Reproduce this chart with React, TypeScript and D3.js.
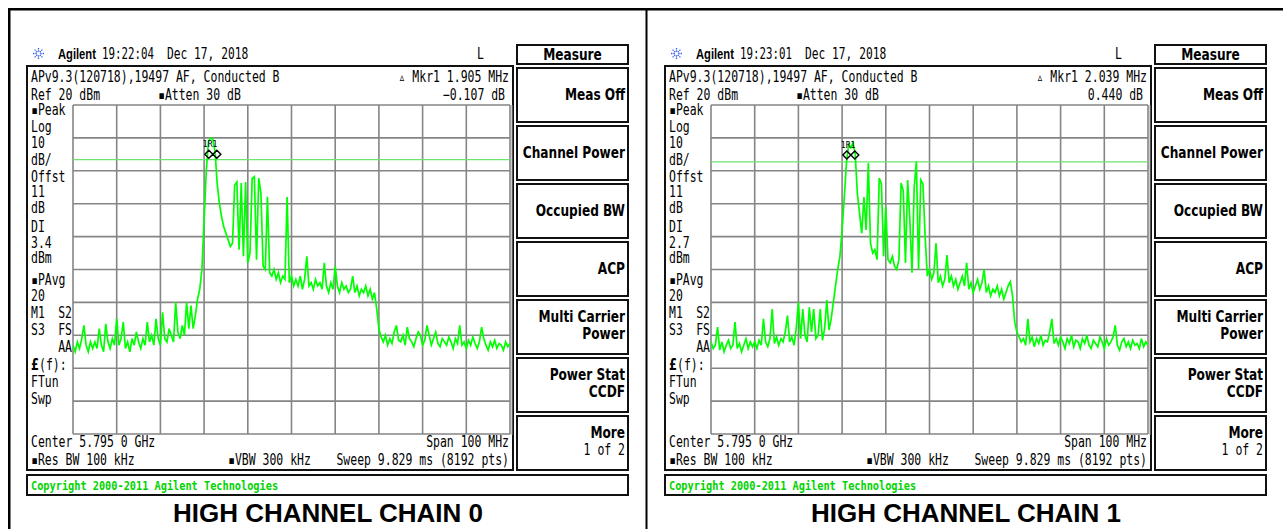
import React from "react";
import * as d3 from "d3";

// two Agilent PSA screenshots, 100 MHz span around 5.795 GHz
const SPAN_MHZ = [-50, 50];
const REF_DBM = 20;
const DB_PER_DIV = 10;
const DIVS = 10;

const TITLES = ["HIGH CHANNEL CHAIN 0", "HIGH CHANNEL CHAIN 1"];
const TIMES = ["19:22:04", "19:23:01"];
const MKR_FREQ_TEXT = ["1.905 MHz", "2.039 MHz"];
const MKR_DELTA_TEXT = ["\u22120.107 dB", "0.440 dB"];
const DISPLAY_LINE_DBM = [3.4, 2.7];
const MARKER_MHZ = [-18, -18];
const MARKER_DBM = [5, 4.8];

const SOFTKEYS = [
  ["Meas Off"],
  ["Channel Power"],
  ["Occupied BW"],
  ["ACP"],
  ["Multi Carrier", "Power"],
  ["Power Stat", "CCDF"],
  ["More", "1 of 2"],
];

// trace amplitude (dBm), 201 points across the span
const TRACE_0 = [
  -53, -55, -52, -54, -51, -47, -53, -55, -52, -54,
  -52, -54, -48, -53, -55, -46.5, -52, -54, -51, -53,
  -45, -53, -51, -46, -54, -52, -55, -51, -53, -49,
  -52, -54, -51, -53, -46, -52, -50, -53, -45, -51,
  -53, -43, -51, -52, -48, -50, -52, -40, -49, -51,
  -47, -50, -40, -48, -41, -48, -44, -39, -36, -30,
  -15, 0, 9, 10, 9.5, 6, -4, -10, -14, -17,
  -19, -21, -23, -22, -4.3, -3.4, -24, -3.7, -26, -3.4,
  -28, -25, -2.3, -1.8, -27, -2.2, -6.7, -29, -30, -7.9,
  -31, -32, -30, -33, -31, -34, -32, -33, -8, -34,
  -32, -35, -33, -35, -32, -36, -33, -26, -35, -34,
  -36, -33, -35, -34, -36, -28, -35, -37, -34, -36,
  -29, -35, -37, -34, -36, -35, -37, -36, -32, -37,
  -35, -38, -36, -37, -35, -38, -36, -39, -37, -42,
  -48, -50.5, -52, -50, -53, -51, -52.5, -49, -47, -51.5,
  -52, -50, -53, -47.5, -51, -52, -53.5, -51, -49, -50,
  -53, -51.5, -47, -50, -53, -51, -49, -52.5, -53.5, -51,
  -52, -53, -50.5, -52, -54, -51, -52.5, -47, -53, -52,
  -54, -51.5, -53, -50.5, -52.5, -54, -52, -47.5, -51, -53,
  -54.5, -52, -53.5, -51.5, -54, -52.5, -53, -54.5, -52, -53.5, -52.5,
];

const TRACE_1 = [
  -52, -54, -53, -47.5, -54.5, -52, -55, -53, -51.5, -54,
  -53, -46, -54, -52.5, -55, -53, -51, -54, -52, -53.5,
  -52, -54, -51.5, -53, -45, -52, -53.5, -51, -42, -52.5,
  -50.5, -53, -51, -52, -49, -44, -52, -50.5, -53, -48,
  -40, -51, -42, -50, -52, -41.5, -49, -42, -51, -50,
  -42, -51.5, -48, -39.3, -48.4, -45, -40, -35, -30, -26,
  -18, -8, 2.5, 8, 7, 8.5, 5, -7, -13, -19,
  -8, -18, 2.4, -22, -25, -24, -27, -2.2, -4, -26,
  -11, -27, -28, -26, -29, -30, -27, -3.7, -6, -28,
  -2.8, -15, -31, -5, 2.8, -30, -2.8, -4, -20, -32,
  -30, -33, -31, -22, -34, -32, -35, -33, -25.6, -34,
  -32, -35, -33, -36, -34, -32, -35, -28, -36, -34,
  -37, -35, -33, -36, -34, -30, -37, -35, -38, -36,
  -37, -35, -38, -36, -39, -37, -35, -33.7, -38, -46,
  -49, -50.5, -52, -51, -53, -45, -52, -50.5, -53.5, -51,
  -52.5, -50, -53, -51.5, -52, -49, -45, -52.5, -51, -53,
  -50.5, -52, -54, -51, -52.5, -50, -53.5, -51.5, -52, -54,
  -51, -52.5, -50, -53, -54, -51.5, -52.5, -53.5, -50.5, -52,
  -54, -51, -53, -52, -50.5, -47, -53, -54.5, -52, -51,
  -53.5, -52, -54, -51.5, -53, -52.5, -54, -51, -53.5, -52, -53,
];

const TRACES = [TRACE_0, TRACE_1];

const MONO = "'DejaVu Sans Mono', 'Liberation Mono', monospace";
const BOLD = "'DejaVu Sans', sans-serif";
const ARIAL = "'Liberation Sans', Arial, sans-serif";

const T = ({ x, y, children, anchor = "start", size = 15, sx = 0.765, weight = "normal", fill = "#000", family = MONO }: any) => (
  <text
    transform={`translate(${x},${y}) scale(${sx},1)`}
    textAnchor={anchor}
    fontSize={size}
    fontFamily={family}
    fontWeight={weight}
    fill={fill}
  >
    {children}
  </text>
);

const Logo = ({ cx, cy }: { cx: number; cy: number }) => (
  <g stroke="#3a5ee8" strokeWidth={1.3}>
    {d3.range(8).map((k) => {
      const a = (k * Math.PI) / 4;
      return (
        <line
          key={k}
          x1={cx + Math.cos(a) * 1.8}
          y1={cy + Math.sin(a) * 1.8}
          x2={cx + Math.cos(a) * 5.5}
          y2={cy + Math.sin(a) * 5.5}
          strokeDasharray="1.4 0.9"
        />
      );
    })}
  </g>
);

const Panel = ({ idx, dx }: { idx: number; dx: number }) => {
  const gx0 = 73 + dx;
  const gx1 = 510 + dx;
  const gy0 = 105;
  const gy1 = 434;
  const x = d3.scaleLinear().domain(SPAN_MHZ).range([gx0, gx1]);
  const y = d3
    .scaleLinear()
    .domain([REF_DBM - DB_PER_DIV * DIVS, REF_DBM])
    .range([gy1, gy0]);
  const data = TRACES[idx];
  const step = (SPAN_MHZ[1] - SPAN_MHZ[0]) / (data.length - 1);
  const line = d3
    .line<number>()
    .x((_, i) => x(SPAN_MHZ[0] + i * step))
    .y((d) => y(d));
  const xTicks = d3.range(DIVS + 1).map((k) => SPAN_MHZ[0] + (k * (SPAN_MHZ[1] - SPAN_MHZ[0])) / DIVS);
  const yTicks = d3.range(DIVS + 1).map((k) => REF_DBM - k * DB_PER_DIV);
  const mx = x(MARKER_MHZ[idx]);
  const my = y(MARKER_DBM[idx]);
  const dl = y(DISPLAY_LINE_DBM[idx]);
  const diamond = (cx: number) => `M${cx - 4},${my} L${cx},${my - 4} L${cx + 4},${my} L${cx},${my + 4} Z`;

  const leftLabels: [string, number][] = [
    ["\u25aaPeak", 115],
    ["Log", 132],
    ["10", 148],
    ["dB/", 165],
    ["Offst", 182],
    ["11", 197],
    ["dB", 213],
    ["DI", 232],
    [String(DISPLAY_LINE_DBM[idx]), 248],
    ["dBm", 263],
    ["\u25aaPAvg", 285],
    ["20", 301],
    ["M1", 318],
    ["S3", 335],
    ["FTun", 387],
    ["Swp", 404],
  ];

  const L = 27 + dx;
  const K = 517 + dx;
  const clipId = `clip${idx}`;

  return (
    <g>
      {/* header */}
      <Logo cx={38.5 + dx} cy={53.5} />
      <T x={58 + dx} y={59} family={ARIAL} weight="bold" size={14} sx={0.8}>Agilent</T>
      <T x={102 + dx} y={59} sx={0.72}>{TIMES[idx]}</T>
      <T x={167 + dx} y={59} sx={0.75}>Dec 17, 2018</T>
      <T x={477 + dx} y={59}>L</T>

      {/* instrument frame */}
      <rect x={L} y={66} width={486} height={404} fill="none" stroke="#111" strokeWidth={2} />
      <T x={31 + dx} y={82}>APv9.3(120718),19497 AF, Conducted B</T>
      <T x={31 + dx} y={100}>Ref 20 dBm</T>
      <T x={158 + dx} y={100}>{"\u25aaAtten 30 dB"}</T>
      <T x={509 + dx} y={82} anchor="end">{"\u25b5 Mkr1  " + MKR_FREQ_TEXT[idx]}</T>
      <T x={505 + dx} y={100} anchor="end">{MKR_DELTA_TEXT[idx]}</T>
      {leftLabels.map(([s, yy]) => (
        <T key={s + yy} x={31 + dx} y={yy}>{s}</T>
      ))}
      <T x={72 + dx} y={318} anchor="end">S2</T>
      <T x={72 + dx} y={335} anchor="end">FS</T>
      <T x={72 + dx} y={352} anchor="end">AA</T>
      <T x={31 + dx} y={370}>
        <tspan fontWeight="bold" fontFamily={BOLD}>£</tspan>(f):
      </T>

      {/* graticule */}
      <g stroke="#858585" strokeWidth={1.6}>
        {xTicks.map((t) => (
          <line key={"v" + t} x1={x(t)} x2={x(t)} y1={gy0} y2={gy1} />
        ))}
        {yTicks.map((t) => (
          <line key={"h" + t} x1={gx0} x2={gx1} y1={y(t)} y2={y(t)} />
        ))}
      </g>
      <line x1={gx1 + 2} x2={gx1 + 2} y1={gy0} y2={gy1 + 1} stroke="#999" strokeWidth={1} />

      <clipPath id={clipId}>
        <rect x={gx0} y={gy0 - 6} width={gx1 - gx0} height={gy1 - gy0 + 6} />
      </clipPath>
      <line x1={gx0} x2={gx1} y1={dl} y2={dl} stroke="#6fe36f" strokeWidth={1.2} />
      <path d={line(data) || ""} fill="none" stroke="#00ff00" strokeWidth={1.7} clipPath={`url(#${clipId})`} />

      {/* marker */}
      <path d={diamond(mx - 4) + diamond(mx + 4)} fill="none" stroke="#000" strokeWidth={1.4} />
      <T x={mx - 10} y={my - 7} size={9} sx={0.9}>1R1</T>

      {/* bottom annotations */}
      <T x={31 + dx} y={447}>Center 5.795 0 GHz</T>
      <T x={509 + dx} y={447} anchor="end">Span 100 MHz</T>
      <T x={31 + dx} y={465}>{"\u25aaRes BW 100 kHz"}</T>
      <T x={228 + dx} y={465}>{"\u25aaVBW 300 kHz"}</T>
      <T x={509 + dx} y={465} anchor="end">Sweep 9.829 ms (8192 pts)</T>

      {/* softkeys */}
      <rect x={K} y={45} width={111} height={19} fill="none" stroke="#111" strokeWidth={2} />
      <T x={K + 55.5} y={60} anchor="middle" family={BOLD} weight="bold" size={15} sx={0.81}>Measure</T>
      {SOFTKEYS.map((lab, k) => {
        const top = 68 + k * 58;
        const two = lab.length > 1;
        return (
          <g key={k}>
            <rect x={K} y={top} width={111} height={54} fill="none" stroke="#111" strokeWidth={2} />
            {two ? (
              <>
                <T x={K + 108} y={top + 22} anchor="end" family={BOLD} weight="bold" size={15} sx={0.81}>{lab[0]}</T>
                {lab[1] === "1 of 2" ? (
                  <T x={K + 108} y={top + 39} anchor="end">{lab[1]}</T>
                ) : (
                  <T x={K + 108} y={top + 39} anchor="end" family={BOLD} weight="bold" size={15} sx={0.81}>{lab[1]}</T>
                )}
              </>
            ) : (
              <T x={K + 108} y={top + 32} anchor="end" family={BOLD} weight="bold" size={15} sx={0.81}>{lab[0]}</T>
            )}
          </g>
        );
      })}

      {/* copyright bar */}
      <rect x={L} y={475} width={601} height={20} fill="none" stroke="#111" strokeWidth={2} />
      <T x={31 + dx} y={490} fill="#00d400" weight="bold" size={13} sx={0.79}>Copyright 2000-2011 Agilent Technologies</T>

      {/* caption */}
      <text x={328 + dx} y={522} textAnchor="middle" fontFamily={ARIAL} fontWeight="bold" fontSize={26}>
        {TITLES[idx]}
      </text>
    </g>
  );
};

export default function App() {
  return (
    <svg
      width={1283}
      height={529}
      style={{ position: "absolute", left: 0, top: 0, background: "#fff" }}
    >
      <rect width={1283} height={529} fill="#fff" />
      <line x1={8} x2={1283} y1={9.25} y2={9.25} stroke="#000" strokeWidth={2.5} />
      <line x1={9.25} x2={9.25} y1={8} y2={529} stroke="#000" strokeWidth={2.5} />
      <line x1={646.5} x2={646.5} y1={8} y2={529} stroke="#000" strokeWidth={2} />
      <Panel idx={0} dx={0} />
      <Panel idx={1} dx={638} />
    </svg>
  );
}
